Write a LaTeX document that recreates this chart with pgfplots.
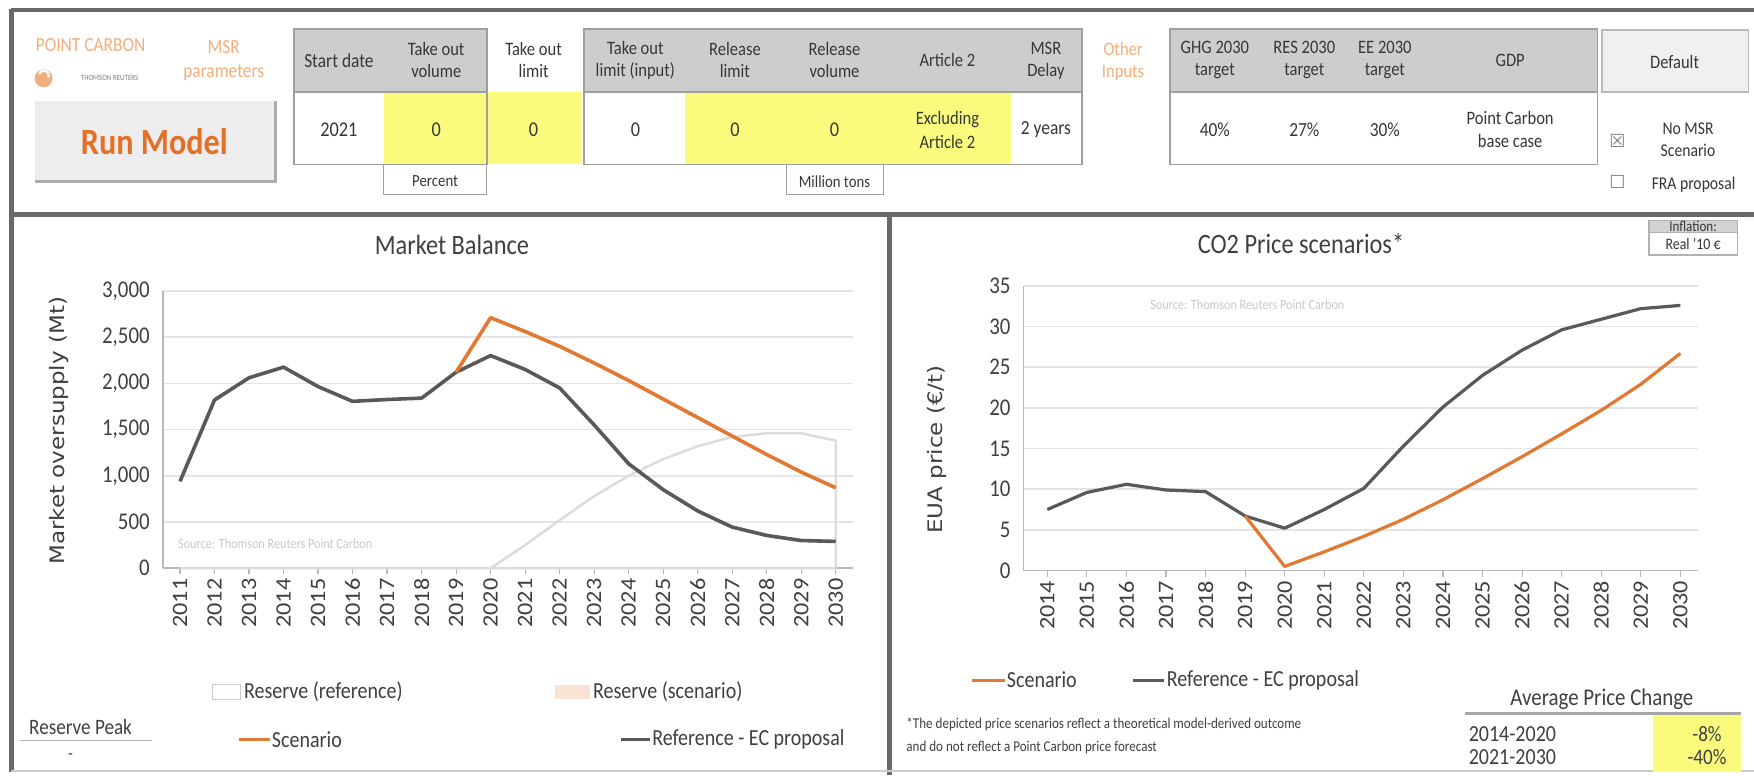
\documentclass[border=0pt]{standalone}
\usepackage{pgfplots}
\pgfplotsset{compat=1.18}
\usepackage{pgfplotstable}
\usepackage{fontspec}
\setmainfont{Carlito}[FakeStretch=0.87]
\newfontfamily\rotfont{Carlito}[FakeStretch=1.1]
\newfontfamily\dvs{DejaVu Sans}[FakeStretch=1.15]
\newfontfamily\symf{DejaVu Sans}
\definecolor{orl}{RGB}{226,120,50}
\definecolor{drk}{RGB}{89,89,89}
\definecolor{gridc}{RGB}{228,228,228}
\definecolor{axc}{RGB}{185,185,185}
\definecolor{tickc}{RGB}{64,64,64}
\definecolor{framec}{RGB}{105,105,105}
\definecolor{hdr}{RGB}{205,205,205}
\definecolor{yel}{RGB}{250,250,125}
\definecolor{lor}{RGB}{242,175,125}
\definecolor{runor}{RGB}{228,112,40}
\definecolor{txt}{RGB}{55,55,55}
\definecolor{srcc}{RGB}{200,200,200}
\newcommand\fs[2]{\fontsize{#1}{#2}\selectfont}

\pgfplotstableread{
year ref reserve
2011 940 0
2012 1820 0
2013 2060 0
2014 2175 0
2015 1965 0
2016 1805 0
2017 1825 0
2018 1840 0
2019 2120 0
2020 2300 0
2021 2150 250
2022 1950 520
2023 1550 780
2024 1130 1000
2025 850 1180
2026 620 1320
2027 445 1420
2028 355 1460
2029 300 1460
2030 290 1380
}\mbtable
\pgfplotstableread{
year scen
2019 2120
2020 2710
2021 2560
2022 2400
2023 2220
2024 2030
2025 1830
2026 1630
2027 1430
2028 1230
2029 1040
2030 870
}\mbscen
\pgfplotstableread{
year ref
2014 7.5
2015 9.6
2016 10.6
2017 9.9
2018 9.7
2019 6.7
2020 5.2
2021 7.5
2022 10.1
2023 15.3
2024 20.1
2025 24.0
2026 27.1
2027 29.6
2028 30.9
2029 32.2
2030 32.6
}\cotable
\pgfplotstableread{
year scen
2019 6.7
2020 0.5
2021 2.3
2022 4.2
2023 6.3
2024 8.7
2025 11.3
2026 14.0
2027 16.8
2028 19.7
2029 22.9
2030 26.7
}\coscen

\pgfplotsset{dash/.style={
  scale only axis, anchor=south west,
  axis x line=bottom, axis y line=left,
  axis line style={-, draw=axc, line width=0.8pt},
  ymajorgrids, grid style={draw=gridc, line width=0.8pt},
  tick align=outside, major tick length=3pt,
  xtick style={draw=axc, line width=0.6pt},
  ytick style={draw=none},
  xticklabel style={rotate=90, anchor=east, font=\rotfont\fs{11}{11}, text=tickc, inner sep=2pt},
  yticklabel style={font=\fs{12}{12}, text=tickc},
  /pgf/number format/1000 sep={,},
  /pgf/number format/assume math mode=true,
  scaled y ticks=false,
  clip=false,
}}

\begin{document}
\begin{tikzpicture}
\begin{scope}[x=0.5593pt,y=-0.5593pt]
\fill[white] (0,0) rectangle (1568,693);
% frame
\draw[framec, line width=2.4pt] (10,9) -- (1568,9);
\draw[framec, line width=2.4pt] (10,8) -- (10,690);
\draw[framec, line width=2.4pt] (10,192) -- (1568,192);
\draw[framec, line width=2.4pt] (795,192) -- (795,693);
\draw[gray!40, line width=0.8pt] (10,689) -- (1568,689);
% logo block
\node[font=\fs{10}{10}, text=lor] at (81,40) {POINT CARBON};
\fill[lor] (39,70) circle (8);
\draw[white, line width=1.2pt] (35,66) arc (200:380:4.5);
\node[font=\fs{4}{4}, text=gray] at (98,70) {THOMSON REUTERS};
\node[font=\fs{10}{12}, text=lor, align=center] at (200,54) {MSR\\parameters};
% run model button
\fill[gray!14] (31,90) rectangle (246,161);
\draw[gray!65, line width=1.6pt] (31,162) -- (246,162) -- (246,90);
\node[font=\bfseries\fs{18.5}{18.5}, text=runor] at (138,127) {Run Model};
% table 1
\fill[hdr] (263,26) rectangle (435,82);
\fill[yel] (343,82) rectangle (520,147);
\draw[gray!75, line width=0.9pt] (263,26) rectangle (435,147);
\draw[gray!75, line width=0.9pt] (263,82) -- (435,82);
\draw[gray!75, line width=0.6pt] (343,147) rectangle (435,174);
\node[font=\fs{10}{10}, text=txt] at (303,54) {Start date};
\node[font=\fs{9.5}{11}, text=txt, align=center] at (390,54) {Take out\\volume};
\node[font=\fs{9.5}{11}, text=txt, align=center] at (477,54) {Take out\\limit};
\node[font=\fs{10.5}{10.5}, text=txt] at (303,116) {2021};
\node[font=\fs{10.5}{10.5}, text=txt] at (390,116) {0};
\node[font=\fs{10.5}{10.5}, text=txt] at (477,116) {0};
\node[font=\fs{8.5}{8.5}, text=txt] at (389,162) {Percent};
% table 2
\fill[hdr] (522,26) rectangle (967,82);
\fill[yel] (612,82) rectangle (904,147);
\draw[gray!75, line width=0.9pt] (522,26) rectangle (967,147);
\draw[gray!75, line width=0.9pt] (522,82) -- (967,82);
\draw[gray!75, line width=0.6pt] (703,147) rectangle (790,174);
\node[font=\fs{9.5}{11}, text=txt, align=center] at (568,54) {Take out\\limit (input)};
\node[font=\fs{9.5}{11}, text=txt, align=center] at (657,54) {Release\\limit};
\node[font=\fs{9.5}{11}, text=txt, align=center] at (746,54) {Release\\volume};
\node[font=\fs{9.5}{11}, text=txt] at (847,54) {Article 2};
\node[font=\fs{9.5}{11}, text=txt, align=center] at (935,54) {MSR\\Delay};
\node[font=\fs{10.5}{10.5}, text=txt] at (568,116) {0};
\node[font=\fs{10.5}{10.5}, text=txt] at (657,116) {0};
\node[font=\fs{10.5}{10.5}, text=txt] at (746,116) {0};
\node[font=\fs{9.5}{12}, text=txt, align=center] at (847,116) {Excluding\\Article 2};
\node[font=\fs{10}{10}, text=txt] at (935,116) {2 years};
\node[font=\fs{8.5}{8.5}, text=txt] at (746,162) {Million tons};
% other inputs
\node[font=\fs{9.5}{11}, text=lor, align=center] at (1004,55) {Other\\Inputs};
\fill[hdr] (1046,26) rectangle (1428,82);
\draw[gray!75, line width=0.9pt] (1046,26) rectangle (1428,147);
\draw[gray!75, line width=0.9pt] (1046,82) -- (1428,82);
\node[font=\fs{9.5}{11}, text=txt, align=center] at (1086,54) {GHG 2030\\target};
\node[font=\fs{9.5}{11}, text=txt, align=center] at (1166,54) {RES 2030\\target};
\node[font=\fs{9.5}{11}, text=txt, align=center] at (1238,54) {EE 2030\\target};
\node[font=\fs{9.5}{11}, text=txt] at (1350,54) {GDP};
\node[font=\fs{10}{10}, text=txt] at (1086,116) {40\%};
\node[font=\fs{10}{10}, text=txt] at (1166,116) {27\%};
\node[font=\fs{10}{10}, text=txt] at (1238,116) {30\%};
\node[font=\fs{9.5}{11.5}, text=txt, align=center] at (1350,116) {Point Carbon\\base case};
% default
\fill[gray!12] (1432,27) rectangle (1563,82);
\draw[gray!55, line width=0.8pt] (1432,27) rectangle (1563,82);
\node[font=\fs{9.5}{9.5}, text=txt] at (1497,55) {Default};
\node[font=\symf\fs{9}{9}, text=gray] at (1446,126) {☒};
\node[font=\fs{9}{11}, text=txt, align=center] at (1509,125) {No MSR\\Scenario};
\node[font=\symf\fs{9}{9}, text=gray] at (1446,163) {☐};
\node[font=\fs{9}{9}, text=txt] at (1514,165) {FRA proposal};
% left panel texts
\node[font=\fs{14}{14}, text=tickc] at (404,219) {Market Balance};
\node[font=\dvs\fs{10}{10}, text=tickc, rotate=90] at (53,385) {Market oversupply (Mt)};
\node[font=\fs{7}{7}, text=srcc, anchor=west] at (153,486) {Source: Thomson Reuters Point Carbon};
% right panel texts
\node[font=\fs{14}{14}, text=tickc] at (1163,218) {CO2 Price scenarios*};
\node[font=\dvs\fs{10}{10}, text=tickc, rotate=90] at (838,402) {EUA price (€/t)};
\node[font=\fs{7}{7}, text=srcc, anchor=west] at (1022,272) {Source: Thomson Reuters Point Carbon};
\fill[gray!35] (1474,197) rectangle (1553,208);
\draw[gray!60, line width=0.7pt] (1474,197) rectangle (1553,228);
\draw[gray!60, line width=0.7pt] (1474,208) -- (1553,208);
\node[font=\fs{7.5}{7.5}, text=txt] at (1513.5,202.5) {Inflation:};
\node[font=\fs{8}{8}, text=txt] at (1513.5,218) {Real '10 €};
\end{scope}

% ---------- Market Balance ----------
\begin{axis}[dash,
  at={(81.38pt,-284.12pt)}, width=345.1pt, height=138.7pt,
  xmin=2010.5, xmax=2030.5, ymin=0, ymax=3000,
  xtick={2011,2012,2013,2014,2015,2016,2017,2018,2019,2020,2021,2022,2023,2024,2025,2026,2027,2028,2029,2030},
  xticklabels={2011,2012,2013,2014,2015,2016,2017,2018,2019,2020,2021,2022,2023,2024,2025,2026,2027,2028,2029,2030},
  ytick={0,500,1000,1500,2000,2500,3000},
]
\addplot[draw=gray!28, line width=1.2pt, fill=white, fill opacity=0.2] table[x=year, y=reserve] {\mbtable} \closedcycle;
\addplot[drk, line width=1.8pt, line join=round] table[x=year, y=ref] {\mbtable};
\addplot[orl, line width=1.8pt, line join=round] table[x=year, y=scen] {\mbscen};
\end{axis}

% ---------- CO2 Price ----------
\begin{axis}[dash,
  at={(511.76pt,-285.24pt)}, width=337.3pt, height=142.3pt,
  xmin=2013.4, xmax=2030.45, ymin=0, ymax=35,
  xtick={2014,2015,2016,2017,2018,2019,2020,2021,2022,2023,2024,2025,2026,2027,2028,2029,2030},
  xticklabels={2014,2015,2016,2017,2018,2019,2020,2021,2022,2023,2024,2025,2026,2027,2028,2029,2030},
  ytick={0,5,10,15,20,25,30,35},
]
\addplot[drk, line width=1.6pt, line join=round] table[x=year, y=ref] {\cotable};
\addplot[orl, line width=1.6pt, line join=round] table[x=year, y=scen] {\coscen};
\end{axis}

\begin{scope}[x=0.5593pt,y=-0.5593pt]
% left legend
\draw[gray!40, line width=0.6pt, fill=white] (190,612) rectangle (215,625);
\node[font=\fs{11.5}{11.5}, text=tickc, anchor=west, inner sep=1pt] at (216,618) {Reserve (reference)};
\fill[lor!35] (496,612) rectangle (527,625);
\node[font=\fs{11.5}{11.5}, text=tickc, anchor=west, inner sep=1pt] at (528,618) {Reserve (scenario)};
\draw[orl, line width=1.8pt] (214,661) -- (241,661);
\node[font=\fs{11.5}{11.5}, text=tickc, anchor=west, inner sep=1pt] at (241,661) {Scenario};
\draw[drk, line width=1.8pt] (555,661) -- (581,661);
\node[font=\fs{11.5}{11.5}, text=tickc, anchor=west, inner sep=1pt] at (581,661) {Reference - EC proposal};
\node[font=\fs{11}{11}, text=tickc] at (72,650) {Reserve Peak};
\draw[gray!60, line width=0.8pt] (18,662) -- (136,662);
\node[font=\fs{9}{9}, text=tickc] at (63,676) {-};
% right legend
\draw[orl, line width=1.6pt] (869,608) -- (898,608);
\node[font=\fs{11.5}{11.5}, text=tickc, anchor=west, inner sep=1pt] at (898,608) {Scenario};
\draw[drk, line width=1.6pt] (1013,608) -- (1041,608);
\node[font=\fs{11.5}{11.5}, text=tickc, anchor=west, inner sep=1pt] at (1041,608) {Reference - EC proposal};
\node[font=\fs{7.5}{7.5}, text=tickc, anchor=west, inner sep=0pt] at (810,648) {*The depicted price scenarios reflect a theoretical model-derived outcome};
\node[font=\fs{7.5}{7.5}, text=tickc, anchor=west, inner sep=0pt] at (810,668) {and do not reflect a Point Carbon price forecast};
\fill[yel] (1478,639) rectangle (1556,690);
\draw[gray!70, line width=1.2pt] (1310,638) -- (1556,638);
\node[font=\fs{12}{12}, text=tickc] at (1432,625) {Average Price Change};
\node[font=\fs{11.5}{11.5}, text=tickc] at (1352,656) {2014-2020};
\node[font=\fs{11.5}{11.5}, text=tickc] at (1352,677) {2021-2030};
\node[font=\fs{11}{11}, text=tickc] at (1526,656) {-8\%};
\node[font=\fs{11}{11}, text=tickc] at (1526,677) {-40\%};
\end{scope}
\pgfresetboundingbox
\path (0,0) rectangle (876.98pt,-387.59pt);
\end{tikzpicture}
\end{document}
